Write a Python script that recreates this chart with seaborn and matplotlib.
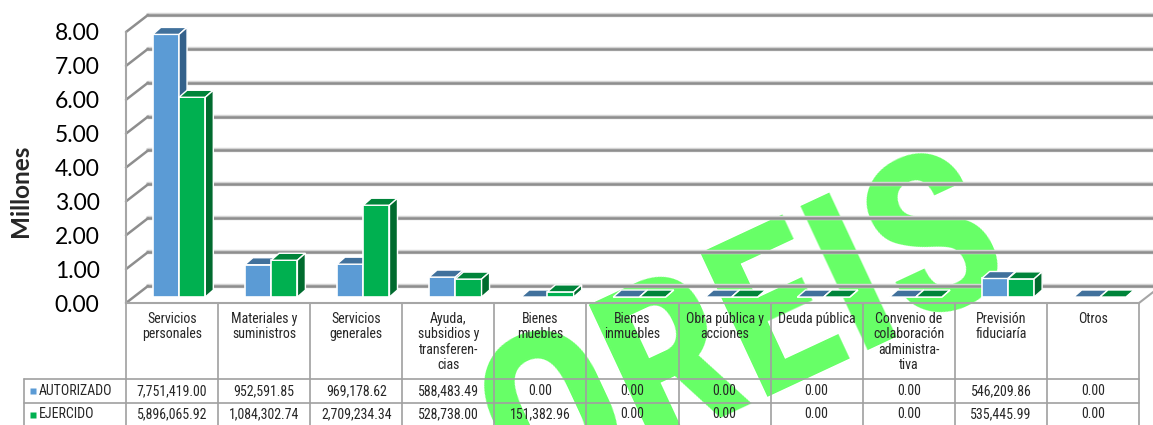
import matplotlib
matplotlib.use('Agg')
import matplotlib.pyplot as plt
import matplotlib.transforms as mtransforms
from matplotlib.patches import Polygon
from matplotlib.lines import Line2D
from matplotlib import font_manager
from matplotlib.font_manager import FontProperties
import pandas as pd
import seaborn as sns

# Data
categorias = ['Servicios\npersonales', 'Materiales y\nsuministros', 'Servicios\ngenerales',
              'Ayuda,\nsubsidios y\ntransferen-\ncias', 'Bienes\nmuebles', 'Bienes\ninmuebles',
              'Obra pública y\nacciones', 'Deuda pública',
              'Convenio de\ncolaboración\nadministra-\ntiva', 'Previsión\nfiduciaría', 'Otros']
autorizado = [7751419.00, 952591.85, 969178.62, 588483.49, 0.00, 0.00, 0.00, 0.00, 0.00, 546209.86, 0.00]
ejercido = [5896065.92, 1084302.74, 2709234.34, 528738.00, 151382.96, 0.00, 0.00, 0.00, 0.00, 535445.99, 0.00]
series = ['AUTORIZADO', 'EJERCIDO']
y_ticks = [0, 1, 2, 3, 4, 5, 6, 7, 8]

# colours: front, top, side
blue = ['#5B9BD5', '#41719C', '#34618B']
green = ['#00B050', '#00843A', '#006B2E']

sns.set_style('white')
plt.rcParams['font.family'] = ['Lato', 'DejaVu Sans']


def condensed_font(bold):
    # look for a narrow / condensed face among the installed fonts
    prefs = ['Liberation Sans Narrow', 'Arial Narrow', 'Roboto Condensed', 'Noto Sans',
             'DejaVu Sans', 'Open Sans']
    found = {}
    for f in font_manager.fontManager.ttflist:
        w = f.weight if isinstance(f.weight, int) else font_manager.weight_dict.get(f.weight, 400)
        narrow = ('Narrow' in f.name or 'Condensed' in f.name or
                  f.stretch in ('condensed', 'semi-condensed', 'extra-condensed') or
                  'ondensed' in f.fname.split('/')[-1] or 'Narrow' in f.fname.split('/')[-1])
        if not narrow or f.style != 'normal':
            continue
        if (w >= 700) != bold:
            continue
        if 'Semi' in f.fname or 'Extra' in f.fname:
            continue
        found.setdefault(f.name, f.fname)
    for p in prefs:
        if p in found:
            return found[p]
    return None


tbl_path = condensed_font(False)
wm_path = condensed_font(True)
if tbl_path:
    tbl_fp = FontProperties(fname=tbl_path, size=10)
else:
    tbl_fp = FontProperties(family='Liberation Sans', size=9)
if wm_path:
    wm_fp = FontProperties(fname=wm_path, size=160)
else:
    wm_fp = FontProperties(family='DejaVu Sans', weight='bold', size=120)

df = pd.DataFrame({
    'Categoria': categorias * 2,
    'Serie': [series[0]] * len(categorias) + [series[1]] * len(categorias),
    'Millones': [v / 1e6 for v in autorizado] + [v / 1e6 for v in ejercido],
})

W, H = 1153, 425
fig = plt.figure(figsize=(W / 100, H / 100), dpi=100)
fig.patch.set_facecolor('white')
ax = fig.add_axes([126 / W, (H - 303) / H, (1139 - 126) / W, 271 / H])
ax.set_facecolor('none')

sns.barplot(data=df, x='Categoria', y='Millones', hue='Serie', palette=[blue[0], green[0]],
            saturation=1, width=0.57, ax=ax, edgecolor='white', linewidth=1.2, legend=False)
ax.set_xlim(-0.5, len(categorias) - 0.5)
ax.set_ylim(0, 8)
for s in ax.spines.values():
    s.set_visible(False)
ax.set_xticks([])
ax.set_xlabel('')


def px(x, y):
    return ax.transData.transform((x, y))


ident = mtransforms.IdentityTransform()
bar_shift = mtransforms.ScaledTranslation(7 / 100, 6 / 100, fig.dpi_scale_trans)
back_dx, back_dy = 22, 17
dep_x, dep_y = 8, 7

# fake 3D faces for every bar
n = len(categorias)
for i, p in enumerate(ax.patches):
    cols = blue if i < n else green
    z = 3 if i < n else 4
    p.set_transform(ax.transData + bar_shift)
    p.set_zorder(z)
    b = p.get_bbox()
    (x0, y0), (x1, y1) = (ax.transData + bar_shift).transform([(b.x0, b.y0), (b.x1, b.y1)])
    top = Polygon([(x0, y1), (x1, y1), (x1 + dep_x, y1 + dep_y), (x0 + dep_x, y1 + dep_y)],
                  closed=True, facecolor=cols[1], edgecolor='white', linewidth=1,
                  transform=ident, clip_on=False, zorder=z + 0.1)
    side = Polygon([(x1, y0), (x1, y1), (x1 + dep_x, y1 + dep_y), (x1 + dep_x, y0 + dep_y)],
                   closed=True, facecolor=cols[2], edgecolor='white', linewidth=1,
                   transform=ident, clip_on=False, zorder=z + 0.1)
    ax.add_patch(top)
    ax.add_patch(side)

# back wall gridlines
grid_tr = ax.get_yaxis_transform() + mtransforms.ScaledTranslation(back_dx / 100, back_dy / 100, fig.dpi_scale_trans)
for t in y_ticks:
    ax.plot([0, 1.05], [t, t], color='#D4D4D4', lw=3.2, transform=grid_tr, clip_on=False, zorder=1)
    ax.plot([0, 1.05], [t, t], color='#8E8E8E', lw=1.8, transform=grid_tr, clip_on=False, zorder=1)
    fx, fy_ = px(-0.5, t)
    ax.add_line(Line2D([fx, fx + back_dx], [fy_, fy_ + back_dy], color='#8E8E8E', lw=1.8,
                       transform=ident, clip_on=False, zorder=1))
# front left axis line and right floor edge
fx0, fy0 = px(-0.5, 0)
fx8, fy8 = px(-0.5, 8)
ax.add_line(Line2D([fx0, fx8], [fy0, fy8], color='#A6A6A6', lw=1.5, transform=ident, clip_on=False, zorder=1))
rx, ry = px(n - 0.5, 0)
ax.add_line(Line2D([rx, rx + back_dx], [ry, ry + back_dy], color='#A6A6A6', lw=1.5, transform=ident, clip_on=False, zorder=1))

ax.set_yticks(y_ticks)
ax.set_yticklabels([f'{t:.2f}' for t in y_ticks])
ax.tick_params(axis='y', length=0, pad=19, labelsize=16.5, labelcolor='black')
ax.set_ylabel('Millones', fontsize=17.5, fontweight='bold')
ax.yaxis.set_label_coords((21 - 126) / 1013, (303 - 191) / 271)
ax.yaxis.label.set_va('center')


# data table below the plot
def fy(py):
    return (303 - py) / 271


xtr = ax.get_xaxis_transform()
line_c = '#A0A0A0'
for i in range(n + 1):
    ax.plot([i - 0.5, i - 0.5], [fy(303), fy(430)], color=line_c, lw=1.2, transform=xtr, clip_on=False)
ax.plot([-0.5, n - 0.5], [fy(303), fy(303)], color='#A6A6A6', lw=1.5, transform=xtr, clip_on=False)
lx = (24 - 126) / 1013
for py in [379, 403]:
    ax.plot([lx, 1], [fy(py), fy(py)], color=line_c, lw=1.2, transform=ax.transAxes, clip_on=False)
ax.plot([lx, lx], [fy(379), fy(430)], color=line_c, lw=1.2, transform=ax.transAxes, clip_on=False)

for i, c in enumerate(categorias):
    ax.text(i, fy(312), c, ha='center', va='top', fontproperties=tbl_fp,
            linespacing=1.12, transform=xtr)
for row, (vals, py, col) in enumerate([(autorizado, 391, blue[0]), (ejercido, 414.5, green[0])]):
    for i, v in enumerate(vals):
        ax.text(i, fy(py), f'{v:,.2f}', ha='center', va='center', fontproperties=tbl_fp,
                transform=xtr)
    ax.plot([(33 - 126) / 1013], [fy(py)], marker='s', ms=4.5, color=col, mec='none',
            transform=ax.transAxes, clip_on=False)
    ax.text((39 - 126) / 1013, fy(py), series[row], ha='left', va='center', fontproperties=tbl_fp,
            transform=ax.transAxes)

# watermark behind the chart
fig.text(745 / W, 1 - 335 / H, 'OREIS', rotation=25, color='#66FF66', fontproperties=wm_fp,
         ha='center', va='center', zorder=-1)

fig.savefig('out.png', dpi=100, facecolor='white')
